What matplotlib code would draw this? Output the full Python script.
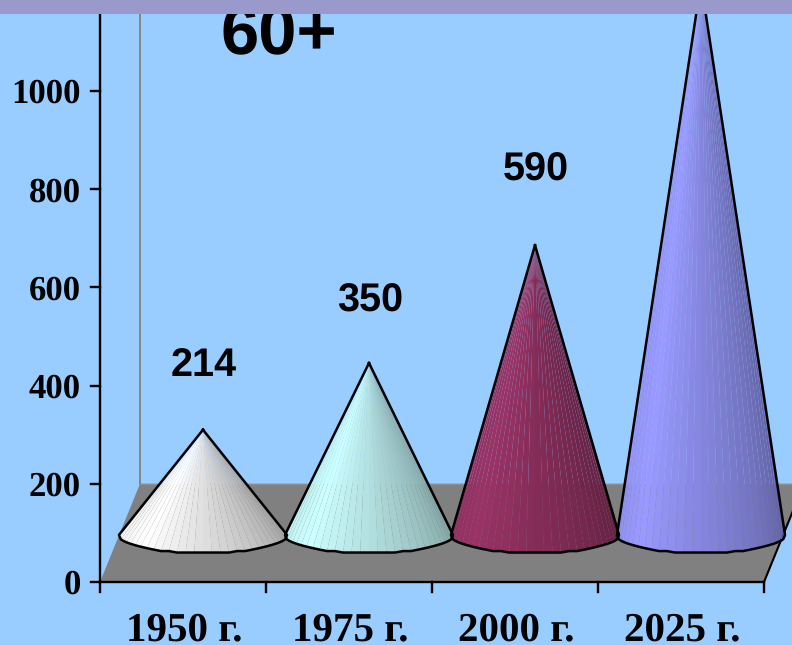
import numpy as np
import matplotlib
matplotlib.use('Agg')
import matplotlib.pyplot as plt
from matplotlib.collections import PolyCollection
from matplotlib.colors import to_rgb

plt.rcParams['text.hinting'] = 'no_hinting'

# population aged 60+, millions
years = ['1950 г.', '1975 г.', '2000 г.', '2025 г.']
values = [214, 350, 590, 1125]
labels = ['214', '350', '590', None]
yticks = [0, 200, 400, 600, 800, 1000]

cone_colors = ['#FFFFFF', '#CCFFFF', '#993366', '#9999FF']
label_offsets = [130, 126, 152, 0]

BG = '#99CCFF'
BAND = '#9999CC'
FLOOR = '#808080'
SERIF = 'Liberation Serif'
SANS = 'Liberation Sans'

W, H = 792, 645
X0, CAT_W = 100, 166
Y0, PX_PER_UNIT = 582, 0.491
DEPTH_X, DEPTH_Y = 40 / CAT_W, 200    # floor depth in axis units
BASE_Y = 96
TOP_Y = 1156


def shade(color, t):
    # t runs from left rim (0) to right rim (1), brightest a quarter of the way round
    rgb = np.array(to_rgb(color))
    if t < 0.25:
        k = 0.93 + 0.07 * t / 0.25
    else:
        k = 1.0 - 0.38 * (t - 0.25) / 0.75
    return tuple(rgb * k)


def draw_cone(ax, i, value, color, n=30):
    cx = i + 0.5 + DEPTH_X / 2
    a, b = 0.506, 37
    th = np.linspace(np.pi, 2 * np.pi, n + 1)
    bx = cx + a * np.cos(th)
    # rim is slightly stepped rather than a perfect ellipse
    by = BASE_Y + np.round(b * np.sin(th) / 3) * 3
    apex = (cx, BASE_Y + value)
    polys = [[apex, (bx[k], by[k]), (bx[k + 1], by[k + 1])] for k in range(n)]
    cols = [shade(color, (k + 0.5) / n) for k in range(n)]
    ax.add_collection(PolyCollection(polys, facecolors=cols, edgecolors='none', linewidths=0, zorder=3))
    # outline: both sides and the front rim
    ox = np.r_[apex[0], bx, apex[0]]
    oy = np.r_[apex[1], by, apex[1]]
    ax.plot(ox, oy, color='black', lw=1.8, zorder=4, solid_joinstyle='round')


fig = plt.figure(figsize=(W / 100, H / 100), dpi=100, facecolor=BG)
ax = fig.add_axes([0, 0, 1, 1])
ax.set_xlim(-X0 / CAT_W, (W - X0) / CAT_W)
ax.set_ylim((Y0 - H) / PX_PER_UNIT, Y0 / PX_PER_UNIT)
ax.axis('off')

n_cat = len(years)

# floor and back wall edge
ax.fill([0, n_cat, n_cat + DEPTH_X, DEPTH_X], [0, 0, DEPTH_Y, DEPTH_Y],
        color=FLOOR, lw=0, zorder=1)
ax.plot([DEPTH_X, DEPTH_X], [DEPTH_Y, TOP_Y], color=FLOOR, lw=1.3, zorder=1)
ax.plot([DEPTH_X, n_cat + DEPTH_X], [DEPTH_Y, DEPTH_Y], color='#8c8c8c', lw=1, zorder=1)
ax.plot([n_cat, n_cat + DEPTH_X], [0, DEPTH_Y], color='black', lw=1.5, zorder=2)

for i, (v, c) in enumerate(zip(values, cone_colors)):
    draw_cone(ax, i, v, c)

# axes lines and ticks
tick_len_x = 9 / CAT_W
tick_len_y = 10 / PX_PER_UNIT
ax.plot([0, 0], [0, TOP_Y], color='black', lw=1.7, zorder=5)
ax.plot([0, n_cat], [0, 0], color='black', lw=1.7, zorder=5)
for t in yticks:
    ax.plot([-tick_len_x, 0], [t, t], color='black', lw=1.7, zorder=5)
    ax.text(-19 / CAT_W, t, str(t), ha='right', va='center_baseline', family=SERIF,
            weight='bold', fontsize=25, color='black', zorder=6)
for i in range(n_cat + 1):
    ax.plot([i, i], [0, -tick_len_y], color='black', lw=1.7, zorder=5)
for i, year in enumerate(years):
    ax.text(i + 0.505, -118, year, ha='center', va='baseline', family=SERIF,
            weight='bold', fontsize=29.5, color='black', zorder=6)

# value labels above the cones
for i, (v, lab, off) in enumerate(zip(values, labels, label_offsets)):
    if lab is None:
        continue
    ax.text(i + 0.5 + DEPTH_X / 2 + 0.004, BASE_Y + v + off, lab, ha='center', va='center',
            family=SANS, weight='bold', fontsize=28.5, color='black', zorder=6)

ax.text(279 / CAT_W - X0 / CAT_W, 1077, '60+', ha='center', va='baseline', family=SANS,
        weight='bold', fontsize=49.5, color='black', zorder=6)

# band across the top hides whatever runs past the plot
ax.axhspan(TOP_Y, Y0 / PX_PER_UNIT, color=BAND, lw=0, zorder=10)

fig.savefig('out.png', dpi=100, facecolor=BG)
